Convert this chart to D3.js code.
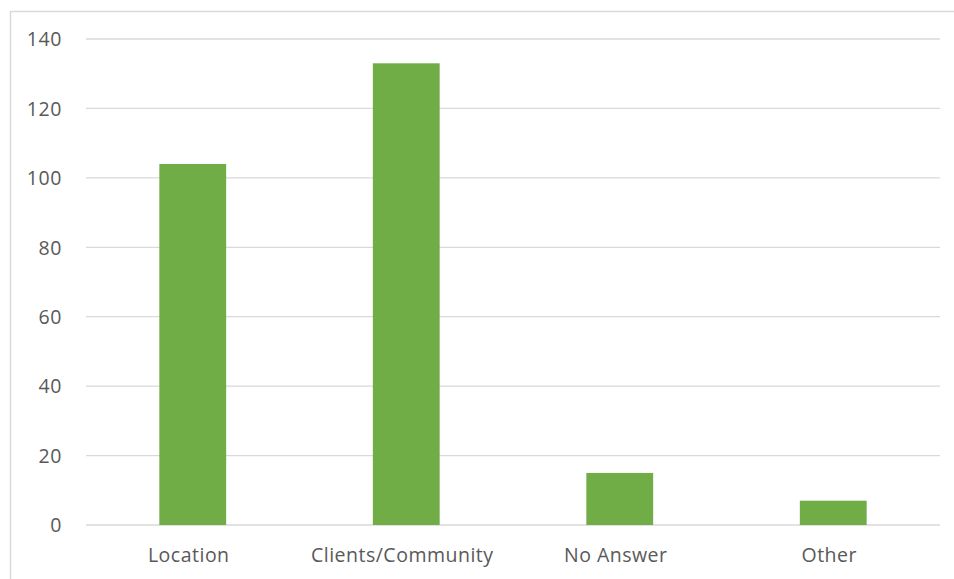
<!DOCTYPE html>
<html><head><meta charset="utf-8">
<script src="https://cdn.jsdelivr.net/npm/d3@7"></script>
<style>body{margin:0;background:#fff;}svg{display:block;}</style>
</head><body>
<svg id="c" width="954" height="579"></svg>
<script>
const categories = ["Location", "Clients/Community", "No Answer", "Other"];
const values = [104, 133, 15, 7];
const yTicks = [0, 20, 40, 60, 80, 100, 120, 140];

(function () {
const svg = d3.select("#c");
const font = "'Open Sans', sans-serif";
svg.append("rect").attr("x", 10.5).attr("y", 11.5).attr("width", 960).attr("height", 600)
  .attr("fill", "none").attr("stroke", "#d9d9d9").attr("stroke-width", 1.5);

const mLeft = 86, mRight = 940, mTop = 39, mBottom = 525;
const x = d3.scaleBand().domain(categories).range([mLeft, mRight]).paddingInner(0.687).paddingOuter(0.3435);
const y = d3.scaleLinear().domain([0, 140]).range([mBottom, mTop]);

svg.append("g").selectAll("line").data(yTicks).join("line")
  .attr("x1", mLeft).attr("x2", mRight)
  .attr("y1", d => y(d)).attr("y2", d => y(d))
  .attr("stroke", "#d9d9d9").attr("stroke-width", 1.3);

svg.append("g").selectAll("rect").data(values).join("rect")
  .attr("x", (d, i) => x(categories[i]))
  .attr("width", x.bandwidth())
  .attr("y", d => y(d))
  .attr("height", d => y(0) - y(d))
  .attr("fill", "#70ad47");

const yAxis = d3.axisLeft(y).tickValues(yTicks).tickSize(0).tickPadding(0);
const ya = svg.append("g").attr("transform", `translate(62,0)`).call(yAxis);
ya.select(".domain").remove();
ya.selectAll("text").attr("font-family", font).attr("font-size", 19.5).attr("letter-spacing", "0.6px").attr("fill", "#595959").attr("dy", "0.35em");

const xAxis = d3.axisBottom(x).tickSize(0).tickPadding(0);
const xa = svg.append("g").attr("transform", `translate(-4,${mBottom})`).call(xAxis);
xa.select(".domain").remove();
xa.selectAll("text").attr("font-family", font).attr("font-size", 19.5).attr("letter-spacing", "0.5px").attr("fill", "#595959").attr("dy", "1.9em");
})();
</script>
</body></html>
